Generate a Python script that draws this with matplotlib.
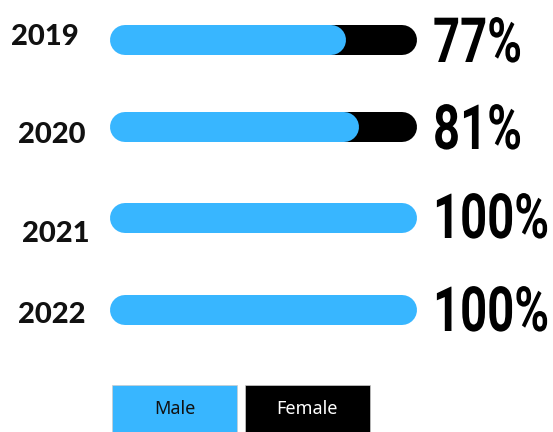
import matplotlib.pyplot as plt
from matplotlib.patches import Rectangle
from matplotlib.patheffects import AbstractPathEffect
from matplotlib.transforms import Affine2D

years = ['2019', '2020', '2021', '2022']
male_pct = [77, 81, 100, 100]
female_pct = [23, 19, 0, 0]
pct_labels = ['77%', '81%', '100%', '100%']
series_names = ['Male', 'Female']

BLUE = '#38b6ff'
BLACK = '#000000'


class Stretch(AbstractPathEffect):
    # tall condensed look for the big numbers (no condensed font installed)
    def __init__(self, sx=1.0, sy=1.0):
        super().__init__()
        self.sx, self.sy = sx, sy

    def draw_path(self, renderer, gc, tpath, affine, rgbFace=None):
        renderer.draw_path(gc, tpath, Affine2D().scale(self.sx, self.sy) + affine, rgbFace)


# layout in pixels (figure is 553x432 at dpi 100)
W, H = 553, 432
bar_x0 = 110          # left edge of the bars
bar_len = 307         # pixel length of 100%
bar_h = 30
row_y = [40, 127, 218, 310]
year_xy = [(45, 45), (52, 143), (56, 242), (52, 323)]   # centre x, baseline y
pct_base = [62, 149, 238, 331]

px = bar_len / 100.0
fig = plt.figure(figsize=(W / 100, H / 100), dpi=100)
ax = fig.add_axes([0, 0, 1, 1])
ax.set_xlim(-bar_x0 / px, (W - bar_x0) / px)
ax.set_ylim(H, 0)
ax.axis('off')

lw = bar_h * 72 / 100
r = bar_h / 2 / px
for i, y in enumerate(row_y):
    m = male_pct[i]
    total = m + female_pct[i]
    if female_pct[i] > 0:
        # black part starts under the blue cap so no dark fringe shows on the left
        ax.plot([m - r, total - r], [y, y], color=BLACK, lw=lw, solid_capstyle='round')
    ax.plot([r, m - r], [y, y], color=BLUE, lw=lw, solid_capstyle='round')

    cx, by = year_xy[i]
    ax.text((cx - bar_x0) / px, by, years[i], ha='center', va='baseline',
            fontsize=21, fontweight='black', family='Lato', color='#111111')
    ax.text((433 - bar_x0) / px, pct_base[i], pct_labels[i], ha='left', va='baseline',
            fontsize=34, fontweight='bold', family='Roboto', color=BLACK,
            path_effects=[Stretch(1.0, 1.32)])

# legend boxes
for (x0, name, fc, tc) in [(112, series_names[0], BLUE, '#111111'),
                           (245, series_names[1], BLACK, 'white')]:
    ax.add_patch(Rectangle(((x0 - bar_x0) / px, 385), 125 / px, 50,
                           facecolor=fc, edgecolor='#cccccc', lw=0.5))
    ax.text((x0 + 62.5 - bar_x0) / px, 409, name, ha='center', va='center',
            fontsize=13, family='Noto Sans', color=tc)

fig.savefig('out.png', dpi=100)
